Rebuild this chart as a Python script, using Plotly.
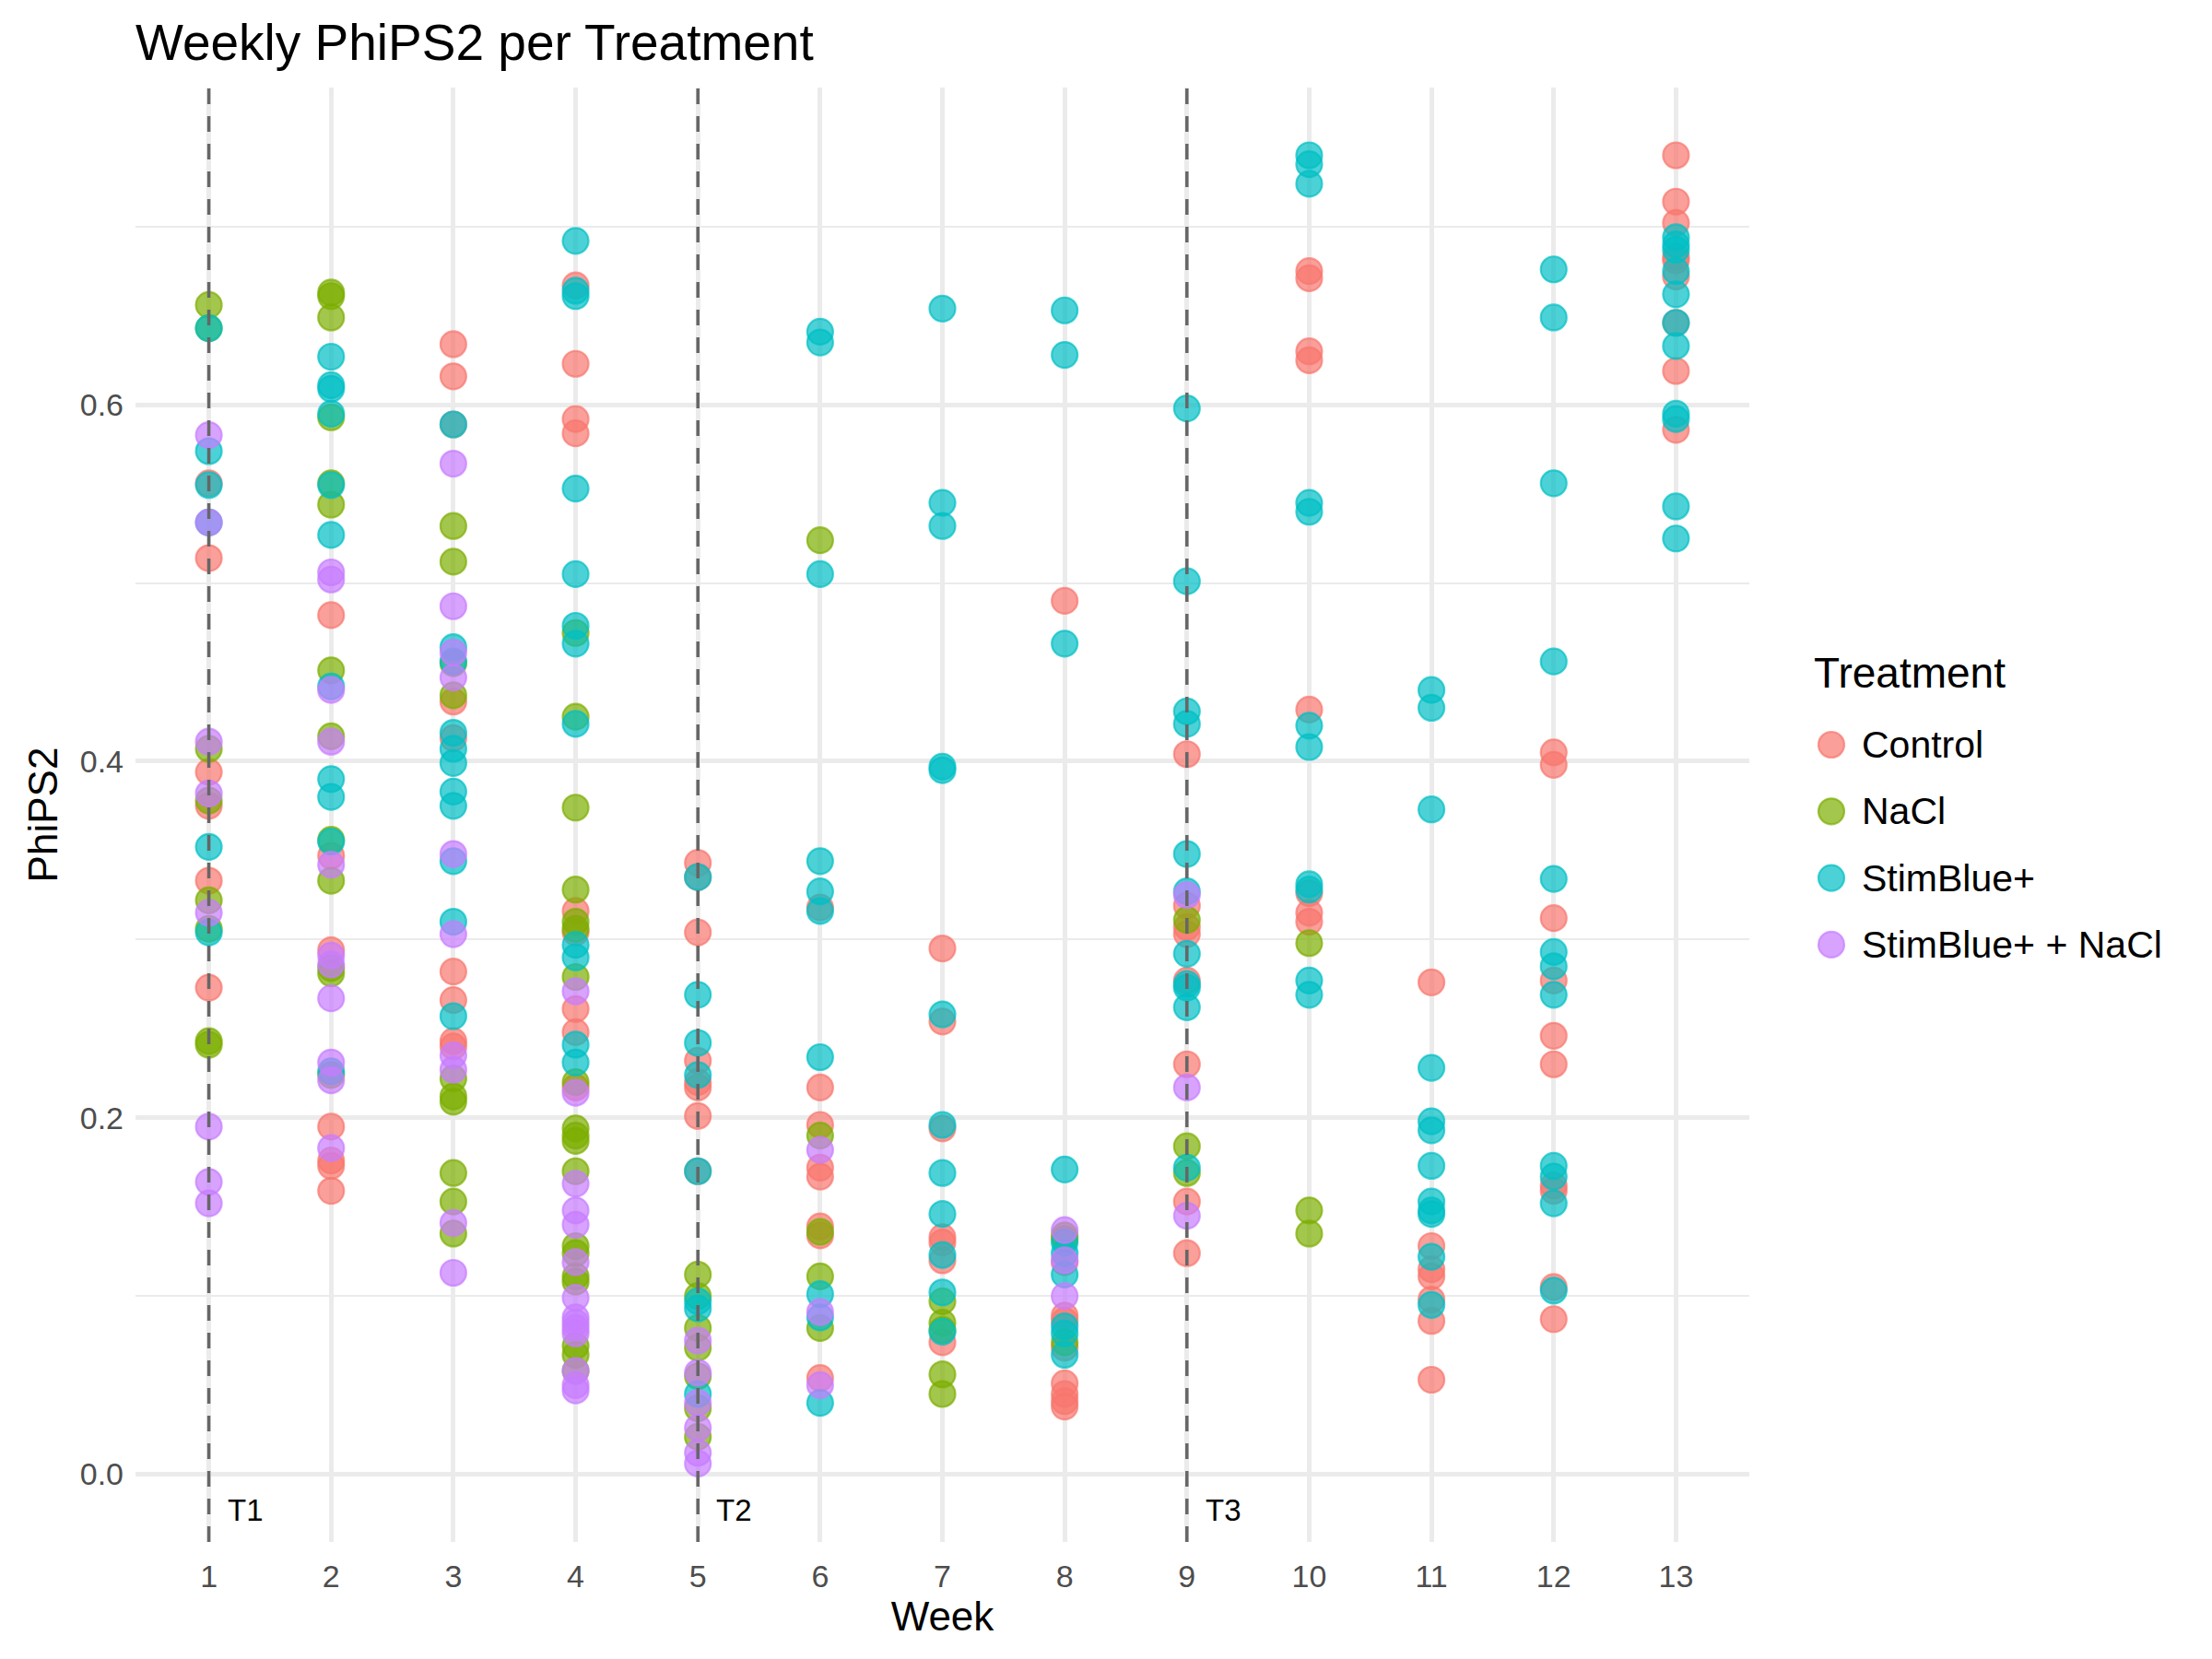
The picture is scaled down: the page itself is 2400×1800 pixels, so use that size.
import plotly.graph_objects as go

# ---------------- data ----------------
WEEKS = list(range(1, 14))
TREATMENTS = ["Control", "NaCl", "StimBlue+", "StimBlue+ + NaCl"]
COLORS = {"Control": "#F8766D", "NaCl": "#7CAE00",
          "StimBlue+": "#00BFC4", "StimBlue+ + NaCl": "#C77CFF"}

control = {
    1: [0.556, 0.514, 0.394, 0.375, 0.333, 0.273],
    2: [0.482, 0.347, 0.294, 0.195, 0.176, 0.173, 0.159],
    3: [0.634, 0.616, 0.589, 0.4335, 0.413, 0.282, 0.266, 0.243, 0.240],
    4: [0.667, 0.623, 0.592, 0.584, 0.316, 0.304, 0.261, 0.248, 0.217],
    5: [0.343, 0.335, 0.304, 0.232, 0.220, 0.217, 0.201, 0.170],
    6: [0.318, 0.217, 0.196, 0.172, 0.167, 0.139, 0.134, 0.054],
    7: [0.295, 0.254, 0.194, 0.133, 0.130, 0.120, 0.074],
    8: [0.490, 0.119, 0.089, 0.086, 0.071, 0.051, 0.045, 0.041, 0.038],
    9: [0.404, 0.319, 0.307, 0.303, 0.277, 0.230, 0.153, 0.124],
    10: [0.675, 0.671, 0.630, 0.625, 0.429, 0.326, 0.315, 0.310],
    11: [0.276, 0.128, 0.115, 0.111, 0.098, 0.086, 0.053],
    12: [0.405, 0.398, 0.312, 0.277, 0.246, 0.230, 0.162, 0.159, 0.105, 0.087],
    13: [0.740, 0.714, 0.702, 0.683, 0.681, 0.672, 0.646, 0.619, 0.586],
}
nacl = {
    1: [0.656, 0.643, 0.407, 0.378, 0.322, 0.306, 0.243, 0.241],
    2: [0.663, 0.661, 0.649, 0.593, 0.556, 0.544, 0.451, 0.414, 0.356,
        0.333, 0.284, 0.281, 0.224],
    3: [0.532, 0.512, 0.455, 0.437, 0.222, 0.212, 0.209, 0.169, 0.153, 0.135],
    4: [0.472, 0.425, 0.374, 0.328, 0.310, 0.306, 0.279, 0.220, 0.194, 0.190,
        0.187, 0.170, 0.128, 0.124, 0.111, 0.108, 0.072, 0.067, 0.058],
    5: [0.112, 0.100, 0.082, 0.071, 0.055, 0.037, 0.021],
    6: [0.524, 0.190, 0.136, 0.111, 0.082],
    7: [0.097, 0.085, 0.081, 0.056, 0.045],
    8: [0.134, 0.132, 0.074],
    9: [0.311, 0.184, 0.169],
    10: [0.298, 0.148, 0.135],
}
stimblue = {
    1: [0.643, 0.574, 0.555, 0.534, 0.352, 0.304],
    2: [0.627, 0.611, 0.609, 0.595, 0.555, 0.527, 0.442, 0.390, 0.380, 0.355, 0.226],
    3: [0.589, 0.464, 0.456, 0.416, 0.407, 0.399, 0.383, 0.375, 0.344, 0.310, 0.257],
    4: [0.692, 0.664, 0.661, 0.553, 0.505, 0.476, 0.466, 0.421, 0.297, 0.290,
        0.241, 0.231],
    5: [0.335, 0.269, 0.242, 0.224, 0.170, 0.097, 0.093, 0.045],
    6: [0.641, 0.635, 0.505, 0.344, 0.327, 0.316, 0.234, 0.101, 0.088, 0.040],
    7: [0.654, 0.545, 0.532, 0.397, 0.395, 0.258, 0.196, 0.169, 0.146, 0.123,
        0.102, 0.080],
    8: [0.653, 0.628, 0.466, 0.171, 0.130, 0.124, 0.112, 0.083, 0.079, 0.067],
    9: [0.598, 0.501, 0.428, 0.421, 0.348, 0.327, 0.292, 0.275, 0.273, 0.262, 0.172],
    10: [0.740, 0.735, 0.724, 0.545, 0.540, 0.420, 0.408, 0.331, 0.328, 0.277, 0.269],
    11: [0.440, 0.430, 0.373, 0.228, 0.198, 0.193, 0.173, 0.153, 0.148, 0.146,
         0.122, 0.095],
    12: [0.676, 0.649, 0.556, 0.456, 0.334, 0.293, 0.285, 0.269, 0.173, 0.167,
         0.152, 0.103],
    13: [0.694, 0.690, 0.687, 0.675, 0.662, 0.646, 0.633, 0.595, 0.592, 0.543, 0.525],
}
stimblue_nacl = {
    1: [0.583, 0.534, 0.411, 0.382, 0.315, 0.195, 0.164, 0.152],
    2: [0.506, 0.502, 0.440, 0.411, 0.342, 0.291, 0.286, 0.267, 0.231, 0.221, 0.183],
    3: [0.567, 0.487, 0.461, 0.447, 0.348, 0.303, 0.235, 0.227, 0.141, 0.113],
    4: [0.271, 0.214, 0.163, 0.148, 0.140, 0.119, 0.099, 0.088, 0.085, 0.082,
        0.079, 0.058, 0.050, 0.047],
    5: [0.075, 0.057, 0.040, 0.026, 0.012, 0.006],
    6: [0.182, 0.091, 0.050],
    8: [0.137, 0.120, 0.100],
    9: [0.325, 0.217, 0.145],
}
SERIES = {"Control": control, "NaCl": nacl,
          "StimBlue+": stimblue, "StimBlue+ + NaCl": stimblue_nacl}

TREAT_WEEKS = [1, 5, 9]
TREAT_LABELS = ["T1", "T2", "T3"]
LABEL_Y = -0.02
LABEL_DX = 0.3

Y_TICKS = [0.0, 0.2, 0.4, 0.6]
LEGEND_TITLE = "Treatment"

FONT = "Liberation Sans, Arial, Helvetica, sans-serif"

# layout geometry (pixels)
W, H = 2400, 1800
ML, MR, MT, MB = 147, 502, 95, 127
PW, PH = W - ML - MR, H - MT - MB
MARKER_D = 28


def rgba(hex_color, a):
    h = hex_color.lstrip("#")
    r, g, b = int(h[0:2], 16), int(h[2:4], 16), int(h[4:6], 16)
    return f"rgba({r},{g},{b},{a})"


def px_x(px):
    return (px - ML) / PW


def px_y(py):
    return (H - MB - py) / PH


fig = go.Figure()

for name in TREATMENTS:
    data = SERIES[name]
    xs, ys = [], []
    for wk in WEEKS:
        for v in data.get(wk, []):
            xs.append(wk)
            ys.append(v)
    col = COLORS[name]
    fig.add_trace(go.Scatter(
        x=xs, y=ys, mode="markers", name=name, showlegend=False,
        marker=dict(size=MARKER_D, color=rgba(col, 0.7),
                    line=dict(color=rgba(col, 0.7), width=2.2)),
    ))

for wk, lab in zip(TREAT_WEEKS, TREAT_LABELS):
    fig.add_vline(x=wk, line=dict(color="#666666", width=3.5, dash="17px,13px"),
                  layer="above")
    fig.add_annotation(x=wk + LABEL_DX, y=LABEL_Y, text=lab, showarrow=False,
                       font=dict(family=FONT, size=33, color="black"),
                       xanchor="center", yanchor="middle")

# ---- legend (ggplot-style keys with full-size points) ----
fig.add_annotation(xref="paper", yref="paper", x=px_x(1966), y=px_y(730),
                   text=LEGEND_TITLE, showarrow=False, xanchor="left",
                   yanchor="middle",
                   font=dict(family=FONT, size=46, color="black"))
for i, name in enumerate(TREATMENTS):
    cy = 808 + i * 72.3
    col = COLORS[name]
    r = MARKER_D / 2
    fig.add_shape(type="circle", xref="paper", yref="paper",
                  xsizemode="pixel", ysizemode="pixel",
                  xanchor=px_x(1987), yanchor=px_y(cy),
                  x0=-r, x1=r, y0=-r, y1=r,
                  fillcolor=rgba(col, 0.7),
                  line=dict(color=rgba(col, 0.7), width=2.2))
    fig.add_annotation(xref="paper", yref="paper", x=px_x(2018), y=px_y(cy),
                       text=name, showarrow=False, xanchor="left",
                       yanchor="middle",
                       font=dict(family=FONT, size=41, color="black"))

fig.update_layout(
    width=W, height=H,
    margin=dict(l=ML, r=MR, t=MT, b=MB),
    paper_bgcolor="white", plot_bgcolor="white",
    font=dict(family=FONT, color="black"),
    title=dict(text="Weekly PhiPS2 per Treatment", x=ML / W, xanchor="left",
               xref="container", y=1 - 46 / H, yanchor="middle", yref="container",
               font=dict(size=55, color="black", family=FONT)),
    showlegend=False,
)

fig.update_xaxes(
    range=[0.4, 13.6], tickmode="array", tickvals=WEEKS,
    ticktext=[str(w) for w in WEEKS],
    showgrid=True, gridcolor="#EBEBEB", gridwidth=4.5, zeroline=False,
    showline=False, ticks="", ticklabelstandoff=14,
    tickfont=dict(size=34, color="#4D4D4D", family=FONT),
    title=dict(text="Week", font=dict(size=44, color="black", family=FONT), standoff=6),
)
fig.update_yaxes(
    range=[-0.038, 0.778], tickmode="array", tickvals=Y_TICKS,
    ticktext=[f"{v:.1f}" for v in Y_TICKS],
    showgrid=True, gridcolor="#EBEBEB", gridwidth=4.5, zeroline=False,
    showline=False, ticks="", ticklabelstandoff=12,
    minor=dict(tickmode="array", tickvals=[0.1, 0.3, 0.5, 0.7], showgrid=True,
               gridcolor="#EBEBEB", gridwidth=2.2),
    tickfont=dict(size=34, color="#4D4D4D", family=FONT),
    title=dict(text="PhiPS2", font=dict(size=44, color="black", family=FONT), standoff=10),
)

fig.write_html("out.html")
